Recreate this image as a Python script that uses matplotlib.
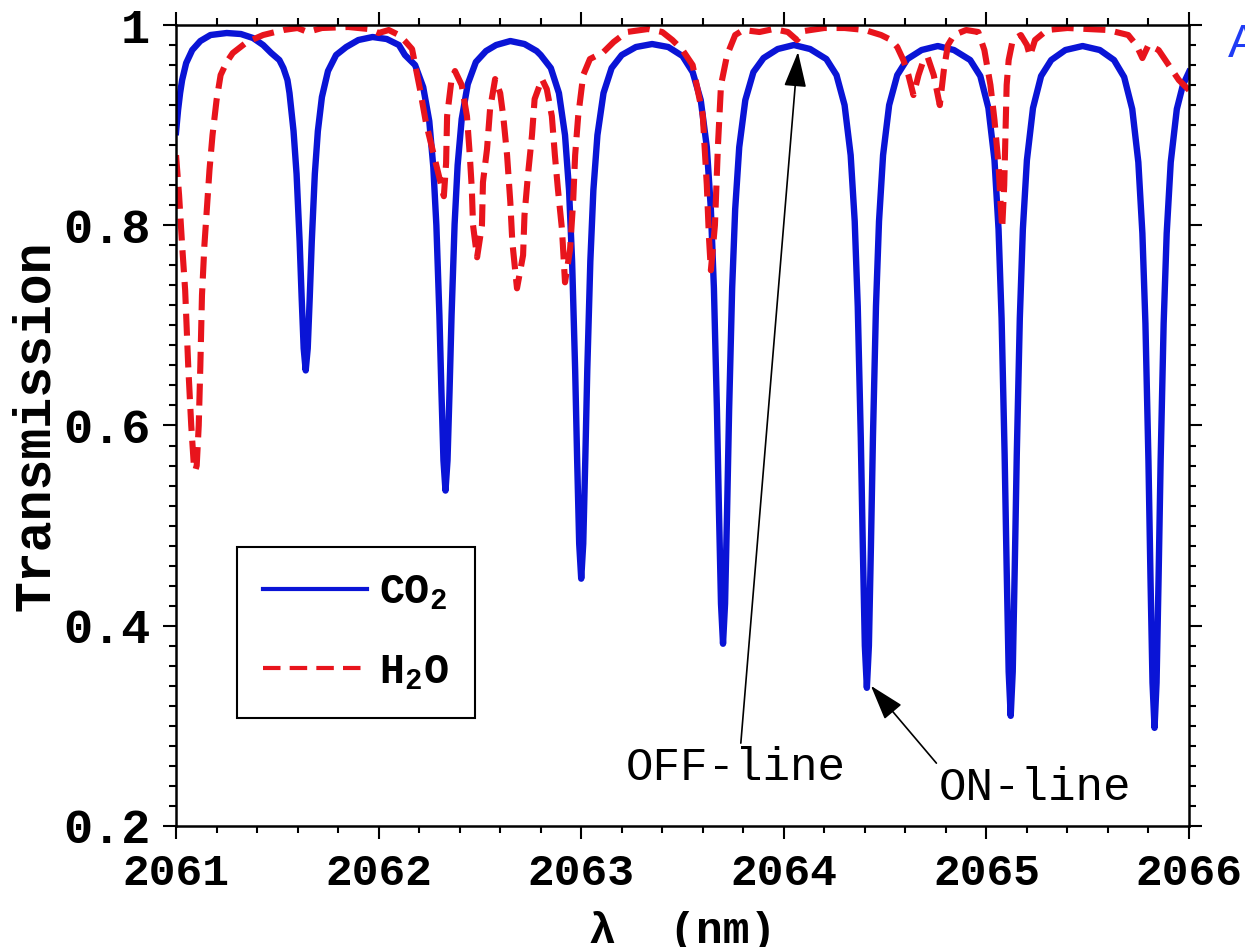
import numpy as np
import matplotlib
matplotlib.use("Agg")
import matplotlib.pyplot as plt
from matplotlib.lines import Line2D
from matplotlib.ticker import MultipleLocator, FuncFormatter

# CO2 transmission (wavelength in nm, transmission)
co2_wl = [
    2061.00, 2061.01, 2061.02, 2061.03, 2061.05, 2061.08, 2061.12, 2061.17, 2061.25, 2061.32,
    2061.38, 2061.43, 2061.47, 2061.51, 2061.53, 2061.55, 2061.56, 2061.58, 2061.595, 2061.61,
    2061.62, 2061.63, 2061.64, 2061.65, 2061.66, 2061.67, 2061.685, 2061.70, 2061.72, 2061.75,
    2061.79, 2061.84, 2061.90, 2061.97, 2062.04, 2062.10, 2062.13, 2062.18, 2062.22, 2062.25,
    2062.27, 2062.285, 2062.30, 2062.31, 2062.32, 2062.33, 2062.34, 2062.35, 2062.36, 2062.375,
    2062.39, 2062.41, 2062.44, 2062.48, 2062.53, 2062.58, 2062.65, 2062.72, 2062.78, 2062.80,
    2062.85, 2062.89, 2062.92, 2062.94, 2062.955, 2062.97, 2062.98, 2062.99, 2063.00, 2063.01,
    2063.02, 2063.03, 2063.045, 2063.06, 2063.08, 2063.11, 2063.15, 2063.20, 2063.27, 2063.35,
    2063.43, 2063.50, 2063.55, 2063.59, 2063.62, 2063.64, 2063.655, 2063.67, 2063.68, 2063.69,
    2063.70, 2063.71, 2063.72, 2063.73, 2063.745, 2063.76, 2063.78, 2063.81, 2063.85, 2063.90,
    2063.97, 2064.05, 2064.13, 2064.21, 2064.26, 2064.30, 2064.33, 2064.35, 2064.365, 2064.38,
    2064.39, 2064.40, 2064.41, 2064.42, 2064.43, 2064.44, 2064.455, 2064.47, 2064.49, 2064.52,
    2064.56, 2064.61, 2064.68, 2064.76, 2064.84, 2064.92, 2064.97, 2065.01, 2065.04, 2065.06,
    2065.075, 2065.09, 2065.10, 2065.11, 2065.12, 2065.13, 2065.14, 2065.15, 2065.165, 2065.18,
    2065.20, 2065.23, 2065.27, 2065.32, 2065.39, 2065.475, 2065.56, 2065.63, 2065.68, 2065.72,
    2065.75, 2065.77, 2065.785, 2065.80, 2065.81, 2065.82, 2065.83, 2065.84, 2065.85, 2065.86,
    2065.875, 2065.89, 2065.91, 2065.94, 2065.97, 2066.00,
]
co2_tr = [
    0.893, 0.915, 0.932, 0.945, 0.962, 0.975, 0.984, 0.990, 0.992, 0.991,
    0.987, 0.980, 0.972, 0.965, 0.957, 0.945, 0.932, 0.894, 0.851, 0.784,
    0.728, 0.677, 0.655, 0.677, 0.728, 0.784, 0.851, 0.894, 0.928, 0.954,
    0.970, 0.978, 0.985, 0.988, 0.986, 0.980, 0.970, 0.960, 0.938, 0.904,
    0.858, 0.800, 0.710, 0.634, 0.565, 0.535, 0.565, 0.634, 0.710, 0.801,
    0.860, 0.906, 0.941, 0.963, 0.974, 0.980, 0.984, 0.981, 0.974, 0.970,
    0.957, 0.932, 0.890, 0.835, 0.764, 0.656, 0.565, 0.482, 0.447, 0.482,
    0.565, 0.656, 0.764, 0.835, 0.890, 0.932, 0.957, 0.970, 0.978, 0.981,
    0.978, 0.969, 0.953, 0.925, 0.878, 0.816, 0.737, 0.615, 0.514, 0.422,
    0.382, 0.422, 0.514, 0.615, 0.737, 0.816, 0.878, 0.925, 0.953, 0.967,
    0.976, 0.980, 0.976, 0.966, 0.950, 0.920, 0.870, 0.804, 0.719, 0.588,
    0.479, 0.380, 0.338, 0.380, 0.479, 0.588, 0.719, 0.804, 0.870, 0.920,
    0.950, 0.966, 0.975, 0.979, 0.975, 0.965, 0.949, 0.917, 0.865, 0.796,
    0.707, 0.571, 0.458, 0.354, 0.310, 0.354, 0.458, 0.571, 0.707, 0.796,
    0.865, 0.917, 0.949, 0.965, 0.975, 0.979, 0.975, 0.965, 0.948, 0.916,
    0.863, 0.792, 0.702, 0.564, 0.448, 0.343, 0.298, 0.343, 0.448, 0.564,
    0.702, 0.792, 0.863, 0.916, 0.940, 0.953,
]

# H2O transmission
h2o_wl = [
    2061.000, 2061.015, 2061.030, 2061.045, 2061.060, 2061.075, 2061.088, 2061.095, 2061.102, 2061.112,
    2061.120, 2061.128, 2061.140, 2061.150, 2061.165, 2061.180, 2061.200, 2061.220, 2061.250, 2061.280,
    2061.350, 2061.430, 2061.530, 2061.600, 2061.650, 2061.720, 2061.850, 2061.950, 2062.000, 2062.050,
    2062.100, 2062.130, 2062.165, 2062.204, 2062.234, 2062.270, 2062.310, 2062.322, 2062.333, 2062.338,
    2062.360, 2062.377, 2062.410, 2062.436, 2062.450, 2062.460, 2062.466, 2062.486, 2062.510, 2062.515,
    2062.535, 2062.550, 2062.575, 2062.600, 2062.615, 2062.634, 2062.650, 2062.660, 2062.683, 2062.713,
    2062.720, 2062.737, 2062.757, 2062.770, 2062.806, 2062.830, 2062.855, 2062.870, 2062.885, 2062.905,
    2062.920, 2062.945, 2062.960, 2062.970, 2062.985, 2063.010, 2063.043, 2063.110, 2063.160, 2063.225,
    2063.330, 2063.400, 2063.450, 2063.500, 2063.550, 2063.600, 2063.620, 2063.630, 2063.640, 2063.660,
    2063.675, 2063.690, 2063.720, 2063.760, 2063.800, 2063.880, 2063.950, 2064.020, 2064.065, 2064.100,
    2064.200, 2064.300, 2064.400, 2064.480, 2064.530, 2064.560, 2064.590, 2064.615, 2064.640, 2064.665,
    2064.690, 2064.710, 2064.740, 2064.770, 2064.790, 2064.810, 2064.840, 2064.900, 2064.960, 2064.990,
    2065.020, 2065.040, 2065.060, 2065.070, 2065.078, 2065.088, 2065.095, 2065.100, 2065.110, 2065.130,
    2065.170, 2065.200, 2065.215, 2065.240, 2065.300, 2065.400, 2065.500, 2065.600, 2065.700, 2065.740,
    2065.770, 2065.800, 2065.850, 2065.900, 2065.950, 2066.000,
]
h2o_tr = [
    0.870, 0.830, 0.780, 0.735, 0.660, 0.600, 0.560, 0.555, 0.560, 0.600,
    0.660, 0.730, 0.780, 0.810, 0.855, 0.890, 0.925, 0.950, 0.963, 0.972,
    0.983, 0.990, 0.995, 0.997, 0.993, 0.997, 0.998, 0.996, 0.992, 0.995,
    0.990, 0.984, 0.976, 0.936, 0.902, 0.872, 0.839, 0.829, 0.862, 0.909,
    0.946, 0.954, 0.940, 0.909, 0.870, 0.836, 0.800, 0.768, 0.800, 0.843,
    0.876, 0.916, 0.946, 0.932, 0.909, 0.870, 0.823, 0.783, 0.737, 0.770,
    0.810, 0.850, 0.890, 0.926, 0.946, 0.936, 0.909, 0.870, 0.836, 0.796,
    0.743, 0.776, 0.823, 0.870, 0.909, 0.950, 0.966, 0.973, 0.983, 0.993,
    0.996, 0.993, 0.985, 0.975, 0.960, 0.910, 0.840, 0.790, 0.755, 0.800,
    0.880, 0.940, 0.970, 0.990, 0.995, 0.993, 0.996, 0.993, 0.985, 0.994,
    0.997, 0.997, 0.995, 0.990, 0.985, 0.978, 0.965, 0.950, 0.930, 0.950,
    0.965, 0.968, 0.950, 0.920, 0.955, 0.980, 0.990, 0.995, 0.993, 0.975,
    0.940, 0.905, 0.860, 0.822, 0.797, 0.840, 0.900, 0.940, 0.965, 0.985,
    0.990, 0.980, 0.969, 0.985, 0.995, 0.997, 0.996, 0.995, 0.990, 0.980,
    0.967, 0.980, 0.975, 0.960, 0.945, 0.935,
]

off_line = (2064.07, 0.973)
on_line = (2064.43, 0.340)

blue = "#0a14d6"
red = "#e8141c"

plt.rcParams["font.family"] = ["Liberation Mono", "DejaVu Sans"]
plt.rcParams["mathtext.fontset"] = "custom"
plt.rcParams["mathtext.rm"] = "Liberation Mono:bold"
plt.rcParams["mathtext.default"] = "rm"

fig = plt.figure(figsize=(12.45, 9.47), dpi=100)
ax = fig.add_axes([0.1414, 0.1278, 0.8136, 0.8458])

ax.plot(co2_wl, co2_tr, color=blue, lw=4.6)
ax.plot(h2o_wl, h2o_tr, color=red, lw=4.4, dashes=(3.6, 1.6))

ax.set_xlim(2061, 2066)
ax.set_ylim(0.2, 1.0)
ax.xaxis.set_major_locator(MultipleLocator(1))
ax.xaxis.set_minor_locator(MultipleLocator(0.2))
ax.yaxis.set_major_locator(MultipleLocator(0.2))
ax.yaxis.set_minor_locator(MultipleLocator(0.02))
ax.xaxis.set_major_formatter(FuncFormatter(lambda v, p: "%d" % round(v)))
ax.yaxis.set_major_formatter(FuncFormatter(lambda v, p: "%g" % round(v, 2)))

ax.tick_params(which="both", direction="out", top=True, right=True,
               labeltop=False, labelright=False, width=1.5, color="black")
ax.tick_params(which="major", length=9.5, pad=10)
ax.tick_params(which="minor", length=5)
ax.tick_params(axis="x", which="major", labelsize=32)
ax.tick_params(axis="y", which="major", labelsize=35, pad=9)
for lab in ax.get_xticklabels() + ax.get_yticklabels():
    lab.set_fontweight("bold")
for s in ax.spines.values():
    s.set_linewidth(1.8)

ax.set_xlabel("λ  (nm)", fontsize=32, fontweight="bold", labelpad=12)
ax.set_ylabel("Transmission", fontsize=37, fontweight="bold")
ax.yaxis.set_label_coords(-0.115, 0.5)

handles = [Line2D([], [], color=blue, lw=3.0),
           Line2D([], [], color=red, lw=3.0, dashes=(4.2, 2.2))]
leg = ax.legend(handles, ["CO$_2$", "H$_2$O"], loc="lower left",
                bbox_to_anchor=(0.060, 0.135), prop={"weight": "bold", "size": 30},
                frameon=True, fancybox=False, framealpha=1, edgecolor="black",
                borderpad=0.62, labelspacing=0.95, handlelength=2.5,
                handletextpad=0.3, borderaxespad=0)
leg.get_frame().set_linewidth(1.5)

arrow = dict(arrowstyle="-|>,head_length=1.1,head_width=0.35", color="black",
             lw=1.2, mutation_scale=20, shrinkA=0, shrinkB=0)
ax.annotate("OFF-line", xy=off_line, xytext=(2063.765, 0.258), fontsize=33,
            ha="center", va="center", arrowprops=dict(arrow, relpos=(0.52, 1.0)))
ax.annotate("ON-line", xy=on_line, xytext=(2065.24, 0.238), fontsize=33,
            ha="center", va="center", arrowprops=dict(arrow, relpos=(0.0, 1.0)))

fig.text(0.9863, 0.9525, "A", color="#1f3cf5", fontsize=34, family="Liberation Sans",
         ha="left", va="center")

fig.savefig("out.png", dpi=100)
